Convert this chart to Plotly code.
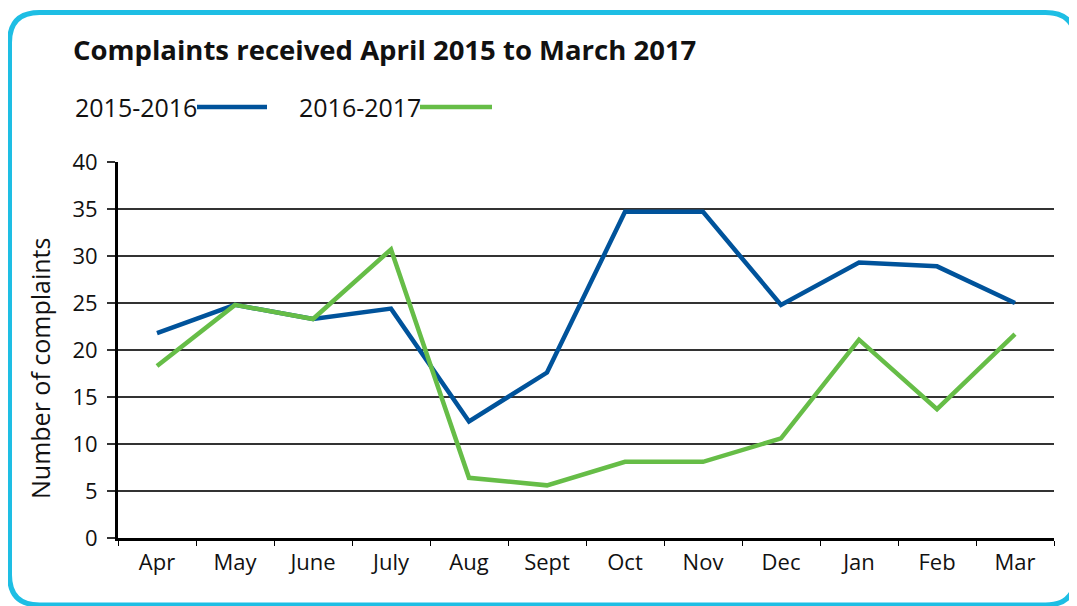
import plotly.graph_objects as go

months = ["Apr", "May", "June", "July", "Aug", "Sept", "Oct", "Nov", "Dec", "Jan", "Feb", "Mar"]
series_2015_2016 = [21.8, 24.8, 23.3, 24.4, 12.4, 17.6, 34.7, 34.7, 24.8, 29.3, 28.9, 25.0]
series_2016_2017 = [18.3, 24.8, 23.3, 30.7, 6.4, 5.6, 8.1, 8.1, 10.6, 21.1, 13.7, 21.7]
y_ticks = [0, 5, 10, 15, 20, 25, 30, 35, 40]
title_text = "Complaints received April 2015 to March 2017"
y_title = "Number of complaints"

BLUE = "#00539b"
GREEN = "#66bd47"
CYAN = "#1ebee4"
TXT = "#111111"
FONT = "Open Sans"

OFF = 8  # page body margin
W, H = 1077 - OFF, 606 - OFF
# plot area in page pixels
L, R, T, B = 118, 1054, 162, 538


def px(x):
    return (x - L) / (R - L)


def py(y):
    return (B - y) / (B - T)


fig = go.Figure()
fig.add_trace(go.Scatter(x=months, y=series_2015_2016, mode="lines", name="2015-2016",
                         line=dict(color=BLUE, width=4.5), showlegend=False))
fig.add_trace(go.Scatter(x=months, y=series_2016_2017, mode="lines", name="2016-2017",
                         line=dict(color=GREEN, width=4.5), showlegend=False))

# rounded border (page pixels)
x0, x1, y0, y1, r = 9.5, 1075.5, 12.5, 605, 30
path = (
    f"M {px(x0+r)},{py(y0)} L {px(x1-r)},{py(y0)} "
    f"Q {px(x1)},{py(y0)} {px(x1)},{py(y0+r)} "
    f"L {px(x1)},{py(y1-r)} Q {px(x1)},{py(y1)} {px(x1-r)},{py(y1)} "
    f"L {px(x0+r)},{py(y1)} Q {px(x0)},{py(y1)} {px(x0)},{py(y1-r)} "
    f"L {px(x0)},{py(y0+r)} Q {px(x0)},{py(y0)} {px(x0+r)},{py(y0)} Z"
)
shapes = [dict(type="path", xref="paper", yref="paper", path=path,
               line=dict(color=CYAN, width=5), layer="below")]

legend_items = [("2015-2016", BLUE, 73, 197, 267), ("2016-2017", GREEN, 297, 420, 492)]
annotations = [
    dict(text=f"<b>{title_text}</b>", xref="paper", yref="paper", x=px(71), y=py(49),
         xanchor="left", yanchor="middle", showarrow=False,
         font=dict(family=FONT, size=27.5, color=TXT)),
    dict(text=y_title, xref="paper", yref="paper", x=px(40), y=py(369), textangle=-90,
         xanchor="center", yanchor="middle", showarrow=False,
         font=dict(family=FONT, size=25, color=TXT)),
]
for name, col, tx, lx0, lx1 in legend_items:
    annotations.append(dict(text=name, xref="paper", yref="paper", x=px(tx), y=py(107),
                            xanchor="left", yanchor="middle", showarrow=False,
                            font=dict(family=FONT, size=25, color=TXT)))
    shapes.append(dict(type="line", xref="paper", yref="paper", x0=px(lx0), x1=px(lx1),
                       y0=py(107), y1=py(107), line=dict(color=col, width=4.5)))

fig.update_layout(
    width=W, height=H,
    margin=dict(l=L - OFF, r=W - (R - OFF), t=T - OFF, b=H - (B - OFF), pad=0),
    paper_bgcolor="white", plot_bgcolor="white",
    font=dict(family=FONT, size=22, color=TXT),
    shapes=shapes, annotations=annotations, showlegend=False,
)
fig.update_xaxes(
    type="category", range=[-0.5, 11.5], showgrid=False, zeroline=False,
    showline=True, linecolor="black", linewidth=3,
    ticks="outside", tickson="boundaries", ticklen=5, tickwidth=1.2, tickcolor="black",
    tickfont=dict(family=FONT, size=22, color=TXT), ticklabelstandoff=3,
)
fig.update_yaxes(
    range=[0, 40], tickvals=y_ticks, showgrid=True, gridcolor="#333333", gridwidth=1.5,
    zeroline=False, showline=True, linecolor="black", linewidth=3,
    ticks="outside", ticklen=8, tickwidth=1.5, tickcolor="#333333",
    tickfont=dict(family=FONT, size=22, color=TXT), ticklabelstandoff=5,
)

fig.write_html("out.html")
